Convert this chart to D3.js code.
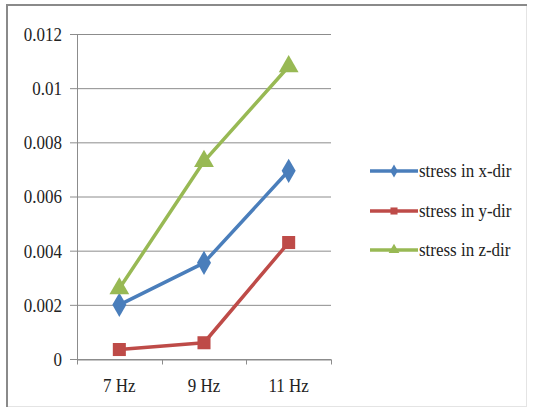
<!DOCTYPE html>
<html><head><meta charset="utf-8">
<script src="https://cdn.jsdelivr.net/npm/d3@7"></script>
<style>body{margin:0;background:#fff}</style>
</head><body>
<script>
const categories = ["7 Hz", "9 Hz", "11 Hz"];
const seriesNames = ["stress in x-dir", "stress in y-dir", "stress in z-dir"];
const xDir = [0.0020, 0.00355, 0.00695];
const yDir = [0.00035, 0.0006, 0.0043];
const zDir = [0.0026, 0.0073, 0.0108];
const yTicks = [0, 0.002, 0.004, 0.006, 0.008, 0.01, 0.012];
const yTickLabels = ["0", "0.002", "0.004", "0.006", "0.008", "0.01", "0.012"];
const colors = ["#4a7ebb", "#be4b48", "#98b954"];
const symbols = [d3.symbolDiamond, d3.symbolSquare, d3.symbolTriangle];

const W = 533, H = 410;
const svg = d3.select("body").append("svg").attr("width", W).attr("height", H);
const font = "'Liberation Serif', 'Times New Roman', serif";
const FS = 17, SY = 1.15;

// frame
svg.append("rect").attr("x", 6.5).attr("y", 4.5).attr("width", 520).attr("height", 402)
  .attr("fill", "#fff").attr("stroke", "#e4e4e4").attr("stroke-width", 1);
svg.append("line").attr("x1", 6).attr("x2", 527).attr("y1", 5).attr("y2", 5).attr("stroke", "#8a8a8a").attr("stroke-width", 2);
svg.append("line").attr("x1", 7).attr("x2", 7).attr("y1", 4).attr("y2", 407).attr("stroke", "#8a8a8a").attr("stroke-width", 2);

const x = d3.scaleBand().domain(categories).range([77, 331]);
const y = d3.scaleLinear().domain([0, 0.012]).range([359, 34]);

// gridlines
svg.append("g").selectAll("line").data(yTicks).join("line")
  .attr("x1", 70).attr("x2", 331)
  .attr("y1", d => y(d) + 0.5).attr("y2", d => y(d) + 0.5)
  .attr("stroke", "#8c8c8c").attr("stroke-width", 1);

// y axis line
svg.append("line").attr("x1", 77.5).attr("x2", 77.5).attr("y1", 34).attr("y2", 359)
  .attr("stroke", "#8c8c8c");

function stretchText(sel, tx, ty) {
  sel.attr("transform", (d, i) => `translate(${tx(d, i)},${ty(d, i)}) scale(1,${SY})`);
}

// y labels
svg.append("g").selectAll("text").data(yTicks).join("text")
  .call(stretchText, () => 62, d => y(d))
  .attr("dy", "0.35em")
  .attr("text-anchor", "end").attr("font-family", font).attr("font-size", FS)
  .attr("fill", "#222").text((d, i) => yTickLabels[i]);

// x axis
const gx = svg.append("g").attr("transform", "translate(0,359.5)");
gx.call(d3.axisBottom(x).tickValues([]).tickSize(0));
gx.select(".domain").attr("stroke", "#8c8c8c");
const bounds = [77, 77 + x.step(), 77 + 2 * x.step(), 331];
gx.selectAll("line.tk").data(bounds).join("line").attr("class", "tk")
  .attr("x1", d => Math.round(d) + 0.5).attr("x2", d => Math.round(d) + 0.5)
  .attr("y1", 0).attr("y2", 5).attr("stroke", "#8c8c8c");
svg.append("g").selectAll("text").data(categories).join("text")
  .call(stretchText, d => x(d) + x.bandwidth() / 2, () => 392)
  .attr("text-anchor", "middle").attr("font-family", font).attr("font-size", FS)
  .attr("fill", "#222").text(d => d);

const series = [xDir, yDir, zDir];
const line = d3.line().x((d, i) => x(categories[i]) + x.bandwidth() / 2).y(d => y(d));
const sizes = [170, 170, 170];

series.forEach((s, k) => {
  svg.append("path").datum(s).attr("d", line).attr("fill", "none")
    .attr("stroke", colors[k]).attr("stroke-width", 3.5).attr("stroke-linejoin", "round");
});
series.forEach((s, k) => {
  svg.append("g").selectAll("path").data(s).join("path")
    .attr("transform", (d, i) => `translate(${x(categories[i]) + x.bandwidth() / 2},${y(d)})`)
    .attr("d", d3.symbol().type(symbols[k]).size(sizes[k]))
    .attr("fill", colors[k]);
});

// legend
const legY = [171, 211, 250];
seriesNames.forEach((n, k) => {
  const g = svg.append("g").attr("transform", `translate(0,${legY[k]})`);
  g.append("line").attr("x1", 370).attr("x2", 418).attr("y1", 0).attr("y2", 0)
    .attr("stroke", colors[k]).attr("stroke-width", 3.5);
  g.append("path").attr("transform", "translate(394,0)")
    .attr("d", d3.symbol().type(symbols[k]).size(50)).attr("fill", colors[k]);
  g.append("text").attr("transform", `translate(419,0) scale(1,${SY})`).attr("dy", "0.32em")
    .attr("font-family", font).attr("font-size", FS).attr("fill", "#222").text(n);
});
</script>
</body></html>
